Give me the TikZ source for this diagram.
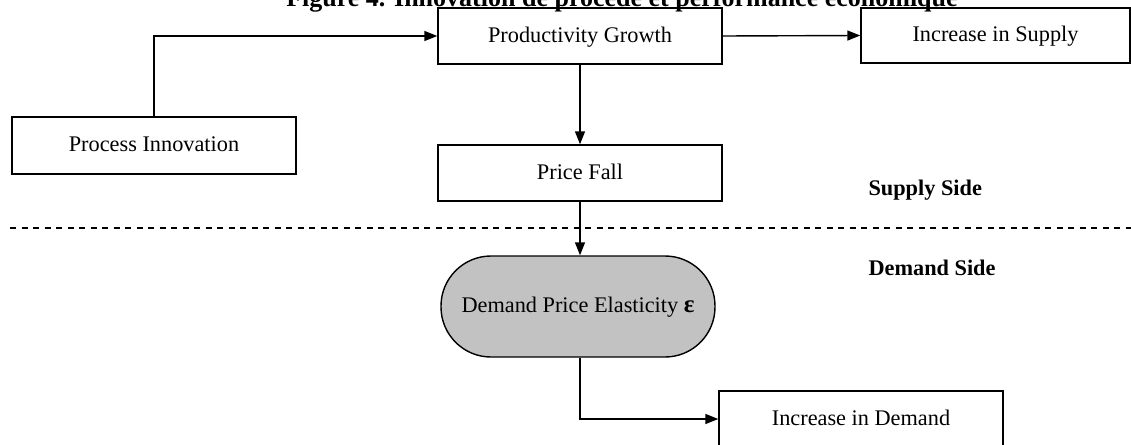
\documentclass[tikz,border=0pt]{standalone}
\usepackage{fontspec}
\setmainfont{Liberation Serif}
\usetikzlibrary{arrows.meta}
\begin{document}
\begin{tikzpicture}[x=1pt,y=-1pt,
  every node/.style={font=\fontsize{22.3pt}{26pt}\selectfont},
  box/.style={draw, line width=1.4pt, rectangle, inner sep=0pt, text height=16pt, text depth=4pt},
  pill/.style={box, fill=black!24, rounded corners=50pt},
  arr/.style={line width=1.4pt, -{Triangle[length=13pt,width=10pt]}},
  sidelabel/.style={anchor=base west, font=\bfseries\fontsize{22.3pt}{26pt}\selectfont}
]
\useasboundingbox (0,0) rectangle (1131,444);
\node[anchor=base, font=\bfseries\fontsize{26pt}{30pt}\selectfont] (title) at (622,7) {Figure 4. Innovation de procédé et performance économique};
\node[box, minimum width=284pt, minimum height=57pt] (proc) at (154,145.5) {Process Innovation};
\node[box, minimum width=284pt, minimum height=56pt] (pg) at (580,36) {Productivity Growth};
\node[box, minimum width=269pt, minimum height=55pt] (is) at (995.5,35.5) {Increase in Supply};
\node[box, minimum width=284pt, minimum height=56pt] (pf) at (580,173) {Price Fall};
\node[pill, minimum width=274pt, minimum height=101pt] (dpe) at (578,306.5) {Demand Price Elasticity {\bfseries\fontsize{25pt}{26pt}\selectfont ε}};
\node[box, minimum width=284pt, minimum height=56pt] (idem) at (861,419) {Increase in Demand};
\node[sidelabel] (sup) at (865,195) {Supply Side};
\node[sidelabel] (dem) at (865,275) {Demand Side};
\coordinate (dl) at (10,228);
\coordinate (dr) at (1131,228);
\draw[line width=1.4pt, dash pattern=on 6pt off 5.5pt] (dl) -- (dr);
\draw[arr] (proc.north) |- (pg.west);
\draw[arr] (pg.east) -- (is.west);
\draw[arr] (pg.south) -- (pf.north);
\draw[arr] (pf.south) -- (pf.south |- dpe.north);
\draw[arr] (dpe.south -| pf.south) |- (idem.west);
\end{tikzpicture}
\end{document}
